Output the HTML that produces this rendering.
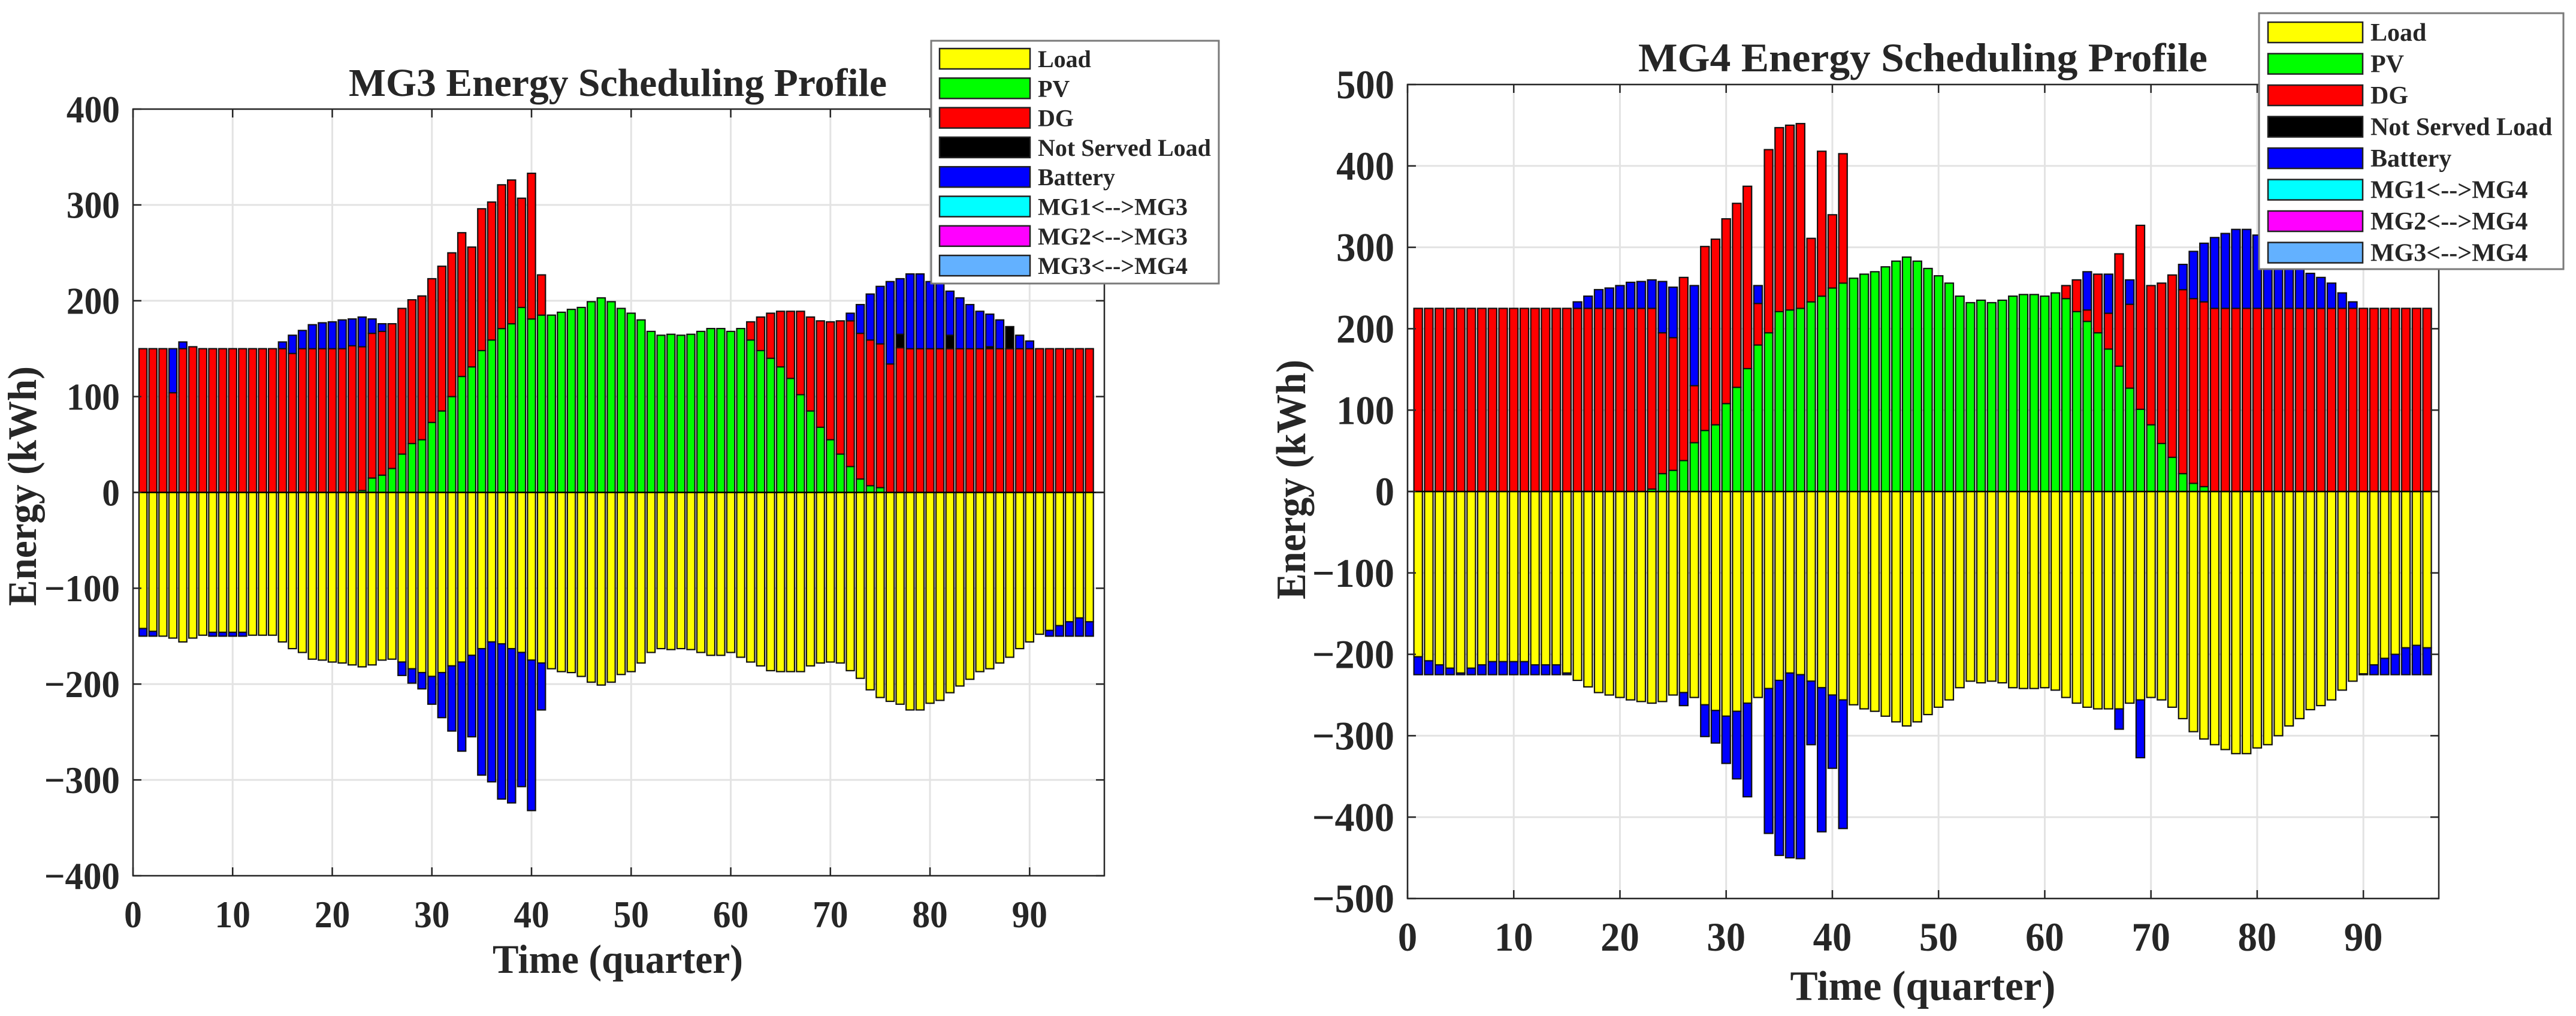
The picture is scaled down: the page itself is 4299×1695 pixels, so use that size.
<!DOCTYPE html>
<html>
<head>
<meta charset="utf-8">
<style>
  html, body { margin: 0; padding: 0; background: #ffffff; }
  svg { display: block; }
  text { font-family: "Liberation Serif", "Times New Roman", serif; font-weight: bold; fill: #262626; }
</style>
</head>
<body>
<svg id="root" width="4299" height="1695" viewBox="0 0 4299 1695" xmlns="http://www.w3.org/2000/svg">
  <g id="chart-mg3"></g>
  <g id="chart-mg4"></g>
</svg>
<script>
// ---------- MG3 data (kWh per quarter, t = 1..96) ----------
const mg3Load = [142,145,150,152,156,152,149,146,146,146,146,149,149,149,156,163,167,174,175,177,178,180,182,180,175,174,177,184,188,192,188,181,177,170,163,156,158,163,167,175,178,184,187,188,192,198,201,198,190,187,178,167,163,164,163,164,167,170,170,167,172,177,181,186,187,187,187,181,178,177,178,186,194,206,214,218,221,227,227,220,217,209,202,195,187,184,178,172,163,156,148,144,139,135,131,135];
const mg3PV = [0,0,0,0,0,0,0,0,0,0,0,0,0,0,0,0,0,0,0,0,0,0,2,15,18,25,40,51,55,73,85,100,121,131,148,159,171,176,193,181,185,185,188,191,193,199,203,199,192,187,180,168,164,165,164,165,168,171,171,168,171,159,148,140,131,119,102,85,68,55,40,27,14,7,5,0,0,0,0,0,0,0,0,0,0,0,0,0,0,0,0,0,0,0,0,0];
const mg3DG = [150,150,150,104,150,152,150,150,150,150,150,150,150,150,150,145,150,150,150,150,150,153,150,151,150,151,152,150,150,150,151,150,150,125,148,144,150,150,114,152,42,0,0,0,0,0,0,0,0,0,0,0,0,0,0,0,0,0,0,0,0,19,35,47,58,70,87,98,111,123,139,152,152,152,150,134,151,150,150,150,150,150,150,150,150,150,150,150,150,150,150,150,150,150,150,150];
const mg3NSL = [0,0,0,0,0,0,0,0,0,0,0,0,0,0,0,0,0,0,0,0,0,0,0,0,0,0,0,0,0,0,0,0,0,0,0,0,0,0,0,0,0,0,0,0,0,0,0,0,0,0,0,0,0,0,0,0,0,0,0,0,0,0,0,0,0,0,0,0,0,0,0,0,0,0,0,0,14,0,0,0,0,14,0,0,0,2,0,23,0,0,0,0,0,0,0,0];
const mg3Batt = [-8,-5,0,46,7,0,0,-4,-4,-4,-4,0,0,0,7,19,19,25,27,28,30,28,31,15,8,0,-14,-15,-17,-29,-47,-68,-93,-85,-132,-146,-162,-161,-140,-157,-49,0,0,0,0,0,0,0,0,0,0,0,0,0,0,0,0,0,0,0,0,0,0,0,0,0,0,0,0,0,0,8,30,48,60,86,58,78,78,70,69,46,53,46,39,34,30,0,14,8,0,-6,-11,-15,-19,-15];
const mg3YTicks = [-400,-300,-200,-100,0,100,200,300,400];
const mg3XTicks = [0,10,20,30,40,50,60,70,80,90];
const mg3Legend = ["Load","PV","DG","Not Served Load","Battery","MG1<-->MG3","MG2<-->MG3","MG3<-->MG4"];

// ---------- MG4 data ----------
const mg4Load = [203,208,213,217,223,217,213,209,209,209,209,213,213,213,223,232,240,247,250,253,256,258,260,258,250,247,253,262,269,276,270,260,253,242,232,223,225,233,241,250,256,262,267,270,276,283,288,283,274,265,256,241,233,235,233,235,241,242,242,241,244,253,260,265,267,267,267,260,256,253,256,265,279,295,304,311,317,322,322,315,311,300,288,279,268,263,256,244,233,224,213,205,200,192,189,192];
const mg4PV = [0,0,0,0,0,0,0,0,0,0,0,0,0,0,0,0,0,0,0,0,0,0,3,22,26,38,60,75,82,108,128,151,180,195,221,223,225,233,240,250,256,262,267,270,276,283,288,283,274,265,256,240,232,235,232,235,240,242,242,240,244,237,221,209,195,175,154,127,101,82,59,42,22,10,6,0,0,0,0,0,0,0,0,0,0,0,0,0,0,0,0,0,0,0,0,0];
const mg4DG = [225,225,225,225,225,225,225,225,225,225,225,225,225,225,225,225,225,225,225,225,225,225,222,173,163,225,70,226,228,227,226,224,51,225,226,227,227,78,178,90,159,0,0,0,0,0,0,0,0,0,0,0,0,0,0,0,0,0,0,0,0,16,39,14,72,44,138,103,226,171,197,224,226,227,227,225,225,225,225,225,225,225,225,225,225,225,225,225,225,225,225,225,225,225,225,225];
const mg4NSL = [0,0,0,0,0,0,0,0,0,0,0,0,0,0,0,0,0,0,0,0,0,0,0,0,0,0,0,0,0,0,0,0,0,0,0,0,0,0,0,0,0,0,0,0,0,0,0,0,0,0,0,0,0,0,0,0,0,0,0,0,0,0,0,0,0,0,0,0,0,0,0,0,0,0,0,0,0,0,0,0,0,0,0,0,0,0,0,0,0,0,0,0,0,0,0,0];
const mg4Batt = [-22,-17,-12,-8,-2,-8,-12,-16,-16,-16,-16,-12,-12,-12,-2,8,15,23,25,28,32,33,35,63,62,-16,123,-39,-40,-58,-83,-115,22,-178,-215,-227,-226,-78,-177,-90,-158,0,0,0,0,0,0,0,0,0,0,0,0,0,0,0,0,0,0,0,0,0,0,47,0,48,-25,30,-71,0,0,0,31,58,72,87,92,97,97,90,86,75,63,54,43,38,31,19,8,-1,-12,-20,-25,-33,-36,-33];
const mg4YTicks = [-500,-400,-300,-200,-100,0,100,200,300,400,500];
const mg4XTicks = [0,10,20,30,40,50,60,70,80,90];
const mg4Legend = ["Load","PV","DG","Not Served Load","Battery","MG1<-->MG4","MG2<-->MG4","MG3<-->MG4"];

const legendColors = ["#ffff00","#00ff00","#ff0000","#000000","#0000ff","#00ffff","#ff00ff","#63b1ff"];
const NS = "http://www.w3.org/2000/svg";

function mk(parent, tag, attrs) {
  const el = document.createElementNS(NS, tag);
  for (const k in attrs) el.setAttribute(k, attrs[k]);
  parent.appendChild(el);
  return el;
}

function drawChart(g, cfg, load, pv, dg, nsl, batt, yTicks, xTicks, legendLabels) {
  const L = cfg.left, R = cfg.right, T = cfg.top, B = cfg.bottom;
  const X = t => L + (t - cfg.xmin) / (cfg.xmax - cfg.xmin) * (R - L);
  const Y = v => B - (v - cfg.ymin) / (cfg.ymax - cfg.ymin) * (B - T);

  const grid = mk(g, "g", {});
  
  
  yTicks.forEach(v => {
    const ln = mk(grid, "line", {x1: L, x2: R, y1: Y(v), y2: Y(v), stroke: "#e3e3e3", "stroke-width": 3});
    
    
  });
  xTicks.forEach(v => {
    const ln = mk(grid, "line", {x1: X(v), x2: X(v), y1: T, y2: B, stroke: "#e3e3e3", "stroke-width": 3});
    
    
  });

  const bars = mk(g, "g", {});
  
  
  const bw = 0.8 * (X(1) - X(0));
  function seg(t, v0, v1, color, name) {
    if (Math.abs(v1 - v0) < 0.01) return;
    const y0 = Y(Math.max(v0, v1)), y1 = Y(Math.min(v0, v1));
    const r = mk(bars, "rect", {x: X(t) - bw / 2, y: y0, width: bw, height: y1 - y0, fill: color, stroke: "#111", "stroke-width": 2.2});
    
    
  }
  for (let i = 0; i < load.length; i++) {
    const t = i + 1;
    seg(t, 0, -load[i], "#ffff00", "bar-load");
    if (batt[i] < 0) seg(t, -load[i], -load[i] + batt[i], "#0000ff", "bar-battery-charge");
    let base = 0;
    seg(t, base, base + pv[i], "#00ff00", "bar-pv"); base += pv[i];
    seg(t, base, base + dg[i], "#ff0000", "bar-dg"); base += dg[i];
    seg(t, base, base + nsl[i], "#000000", "bar-not-served"); base += nsl[i];
    if (batt[i] > 0) seg(t, base, base + batt[i], "#0000ff", "bar-battery-discharge");
  }

  const z = mk(g, "line", {x1: L, x2: R, y1: Y(0), y2: Y(0), stroke: "#000", "stroke-width": 2.5});
  
  

  const box = mk(g, "rect", {x: L, y: T, width: R - L, height: B - T, fill: "none", stroke: "#262626", "stroke-width": 2.5});
  
  

  yTicks.forEach(v => {
    const tk = mk(g, "line", {x1: L, x2: L + 14, y1: Y(v), y2: Y(v), stroke: "#262626", "stroke-width": 2.5});
    
    
    const tk2 = mk(g, "line", {x1: R, x2: R - 14, y1: Y(v), y2: Y(v), stroke: "#262626", "stroke-width": 2.5});
    
    
    const s = String(Math.abs(v));
    const len = s.length * cfg.digitW + (v < 0 ? cfg.digitW * 1.25 : 0);
    const tx = mk(g, "text", {x: L - 22, y: Y(v) + cfg.tickFont * 0.34, "font-size": cfg.tickFont, "text-anchor": "end", textLength: len, lengthAdjust: "spacingAndGlyphs"});
    tx.textContent = v < 0 ? "\u2212" + s : s;
    
    
  });
  xTicks.forEach(v => {
    const tk = mk(g, "line", {x1: X(v), x2: X(v), y1: B, y2: B - 14, stroke: "#262626", "stroke-width": 2.5});
    
    
    const tk2 = mk(g, "line", {x1: X(v), x2: X(v), y1: T, y2: T + 14, stroke: "#262626", "stroke-width": 2.5});
    
    
    const s = String(v);
    const tx = mk(g, "text", {x: X(v), y: cfg.xTickY, "font-size": cfg.tickFont, "text-anchor": "middle", textLength: s.length * cfg.digitW, lengthAdjust: "spacingAndGlyphs"});
    tx.textContent = s;
    
    
  });

  const title = mk(g, "text", {x: cfg.titleX, y: cfg.titleY, "font-size": cfg.titleFont, "text-anchor": "middle", textLength: cfg.titleLen, lengthAdjust: "spacingAndGlyphs"});
  title.textContent = cfg.title;
  
  

  const xl = mk(g, "text", {x: cfg.titleX, y: cfg.xLabelY, "font-size": cfg.labelFont, "text-anchor": "middle", textLength: cfg.xLabelLen, lengthAdjust: "spacingAndGlyphs"});
  xl.textContent = "Time (quarter)";
  
  

  const yl = mk(g, "text", {x: 0, y: 0, "font-size": cfg.labelFont, "text-anchor": "middle", textLength: 400, lengthAdjust: "spacingAndGlyphs",
    transform: "translate(" + cfg.yLabelX + "," + cfg.yLabelY + ") rotate(-90)"});
  yl.textContent = "Energy (kWh)";
  
  

  const lg = mk(g, "g", {});
  
  
  const lb = mk(lg, "rect", {x: cfg.legX, y: cfg.legY, width: cfg.legW, height: cfg.legH, fill: "#fff", stroke: "#7a7a7a", "stroke-width": 3});
  
  
  legendLabels.forEach((lab, i) => {
    const cy = cfg.legY + cfg.legFirst + i * cfg.legStep;
    const sw = mk(lg, "rect", {x: cfg.swX, y: cy - 17, width: cfg.swW, height: 34, fill: legendColors[i], stroke: "#222", "stroke-width": 2.5});
    
    
    const tx = mk(lg, "text", {x: cfg.swX + cfg.swW + 13, y: cy + 14, "font-size": cfg.legFont});
    tx.textContent = lab;
    
    
  });
}

drawChart(document.getElementById("chart-mg3"), {
  left: 222, right: 1843, top: 182, bottom: 1461, xmin: 0, xmax: 97.5, ymin: -400, ymax: 400,
  tickFont: 64, digitW: 29.7, xTickY: 1547, title: "MG3 Energy Scheduling Profile", titleX: 1031, titleY: 160, titleFont: 66, titleLen: 898,
  labelFont: 68, xLabelY: 1623, xLabelLen: 418, yLabelX: 60, yLabelY: 811,
  legX: 1554, legY: 68, legW: 480, legH: 405, legFirst: 30, legStep: 49.3, swX: 1568, swW: 151, legFont: 40
}, mg3Load, mg3PV, mg3DG, mg3NSL, mg3Batt, mg3YTicks, mg3XTicks, mg3Legend);

drawChart(document.getElementById("chart-mg4"), {
  left: 2349, right: 4070, top: 141, bottom: 1499, xmin: 0, xmax: 97.1, ymin: -500, ymax: 500,
  tickFont: 68, digitW: 32.3, xTickY: 1586, title: "MG4 Energy Scheduling Profile", titleX: 3209, titleY: 119, titleFont: 68, titleLen: 950,
  labelFont: 70, xLabelY: 1668, xLabelLen: 443, yLabelX: 2178, yLabelY: 800,
  legX: 3770, legY: 22, legW: 508, legH: 427, legFirst: 32, legStep: 52.5, swX: 3785, swW: 158, legFont: 42
}, mg4Load, mg4PV, mg4DG, mg4NSL, mg4Batt, mg4YTicks, mg4XTicks, mg4Legend);
</script>
</body>
</html>
